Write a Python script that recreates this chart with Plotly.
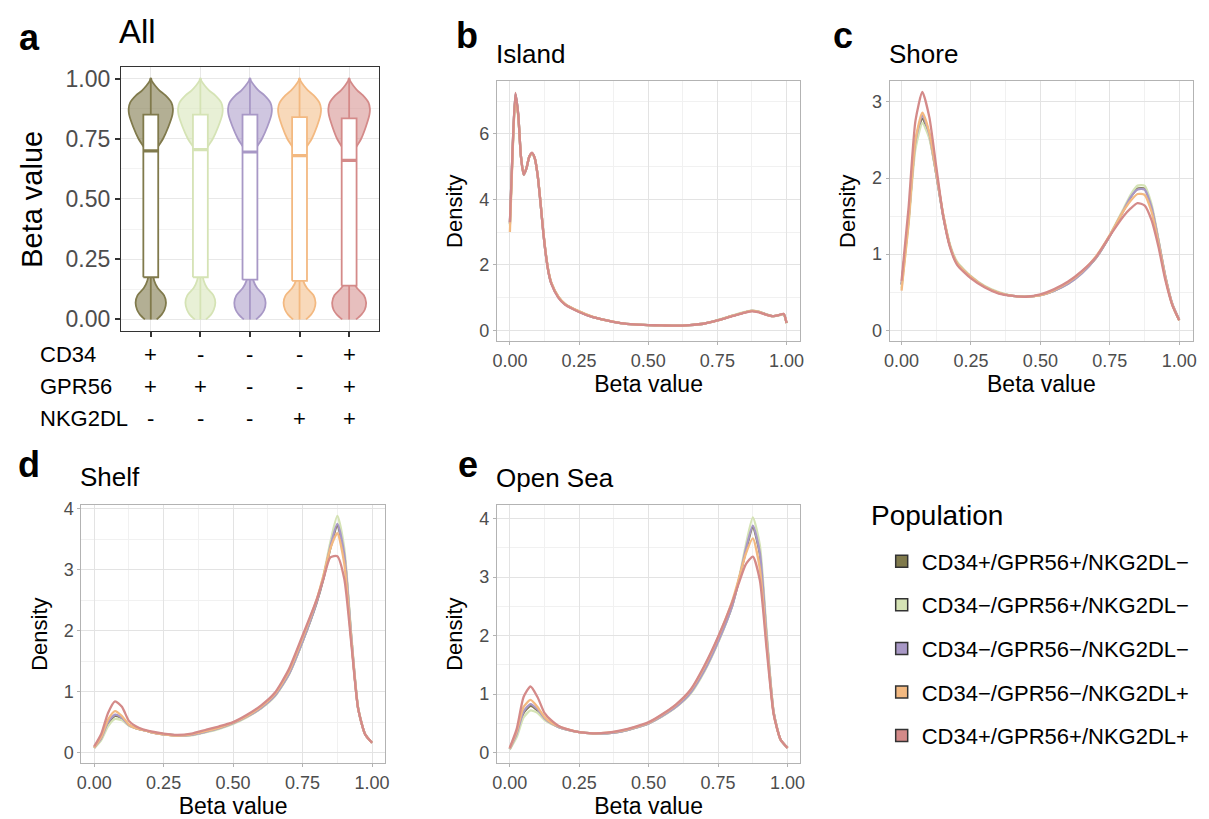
import plotly.graph_objects as go

W, H = 1209, 819

# ---------------- data ----------------
POPULATIONS = ["CD34+/GPR56+/NKG2DL\u2212", "CD34\u2212/GPR56+/NKG2DL\u2212",
               "CD34\u2212/GPR56\u2212/NKG2DL\u2212", "CD34\u2212/GPR56\u2212/NKG2DL+",
               "CD34+/GPR56+/NKG2DL+"]
LEGEND_TITLE = "Population"
COLORS = ["#807A4C", "#D5E3B5", "#A898C6", "#F3B981", "#D48A89"]
FILLS = ["rgba(128,122,76,0.6)", "rgba(213,227,181,0.55)", "rgba(168,152,198,0.55)",
         "rgba(243,185,129,0.55)", "rgba(212,138,137,0.55)"]

MARKER_ROWS = ["CD34", "GPR56", "NKG2DL"]
MARKER_SIGNS = [["+", "-", "-", "-", "+"],
                ["+", "+", "-", "-", "+"],
                ["-", "-", "-", "+", "+"]]

BOX_Q1 = [0.175, 0.175, 0.165, 0.16, 0.14]
BOX_MEDIAN = [0.70, 0.705, 0.695, 0.68, 0.66]
BOX_Q3 = [0.85, 0.85, 0.85, 0.84, 0.835]
BOX_LOW = [0.0, 0.0, 0.0, 0.0, 0.0]
BOX_HIGH = [1.0, 1.0, 1.0, 1.0, 1.0]

VIOLIN_BETA = [0, .02, .04, .07, .1, .13, .16, .2, .3, .4, .5, .6, .65, .7, .75, .8,
               .85, .875, .9, .93, .95, .97, .99, 1.0]
VIOLIN_DENSITY = [
    [0.53, 0.97, 1.23, 1.36, 1.19, 0.62, 0.31, 0.18, 0.11, 0.09, 0.09, 0.13, 0.22, 0.44, 1.1, 1.58, 1.94, 1.98, 1.85, 1.32, 0.79, 0.4, 0.09, 0.03],
    [0.5, 0.95, 1.2, 1.34, 1.17, 0.6, 0.3, 0.17, 0.1, 0.09, 0.09, 0.13, 0.22, 0.45, 1.12, 1.6, 1.96, 2.0, 1.87, 1.33, 0.8, 0.4, 0.09, 0.03],
    [0.55, 1.0, 1.28, 1.4, 1.22, 0.64, 0.32, 0.18, 0.11, 0.09, 0.09, 0.13, 0.22, 0.44, 1.08, 1.56, 1.92, 1.96, 1.83, 1.3, 0.78, 0.4, 0.09, 0.03],
    [0.58, 1.03, 1.3, 1.43, 1.25, 0.66, 0.33, 0.19, 0.11, 0.09, 0.09, 0.13, 0.22, 0.45, 1.1, 1.55, 1.88, 1.92, 1.78, 1.27, 0.77, 0.39, 0.09, 0.03],
    [0.62, 1.1, 1.4, 1.52, 1.32, 0.7, 0.35, 0.2, 0.12, 0.1, 0.1, 0.14, 0.23, 0.46, 1.08, 1.5, 1.82, 1.86, 1.74, 1.24, 0.75, 0.38, 0.09, 0.03],
]

ISLAND_BETA = [0, .01, .02, .03, .04, .05, .06, .07, .08, .09, .1, .11, .12, .13, .14, .15,
               .175, .2, .25, .3, .35, .4, .45, .5, .55, .6, .65, .7, .75, .8, .85, .875,
               .9, .925, .95, .975, .99, 1.0]
ISLAND_DENSITY = [
    [3.25, 5.55, 7.2, 6.6, 5.3, 4.75, 4.95, 5.3, 5.4, 5.25, 4.75, 3.95, 3.05, 2.3, 1.76, 1.43, 1.02, 0.79, 0.57, 0.4, 0.3, 0.22, 0.18, 0.16, 0.15, 0.14, 0.16, 0.2, 0.3, 0.43, 0.55, 0.59, 0.56, 0.49, 0.43, 0.47, 0.49, 0.22],
    [3.2, 5.5, 7.15, 6.55, 5.28, 4.74, 4.94, 5.28, 5.38, 5.24, 4.76, 3.97, 3.08, 2.33, 1.78, 1.45, 1.03, 0.8, 0.58, 0.41, 0.3, 0.22, 0.18, 0.16, 0.15, 0.14, 0.16, 0.2, 0.31, 0.44, 0.56, 0.6, 0.57, 0.49, 0.43, 0.46, 0.48, 0.21],
    [3.3, 5.58, 7.22, 6.6, 5.3, 4.75, 4.95, 5.3, 5.41, 5.25, 4.75, 3.95, 3.05, 2.3, 1.76, 1.43, 1.01, 0.79, 0.57, 0.4, 0.3, 0.22, 0.18, 0.16, 0.15, 0.14, 0.16, 0.2, 0.3, 0.43, 0.55, 0.59, 0.56, 0.48, 0.43, 0.47, 0.5, 0.22],
    [3.0, 5.45, 7.1, 6.55, 5.3, 4.76, 4.96, 5.3, 5.4, 5.25, 4.76, 3.98, 3.08, 2.33, 1.78, 1.45, 1.03, 0.8, 0.58, 0.41, 0.3, 0.22, 0.18, 0.16, 0.15, 0.14, 0.16, 0.2, 0.3, 0.43, 0.55, 0.59, 0.56, 0.48, 0.43, 0.47, 0.5, 0.22],
    [3.3, 5.6, 7.25, 6.6, 5.3, 4.75, 4.95, 5.3, 5.42, 5.25, 4.75, 3.95, 3.05, 2.3, 1.75, 1.42, 1.0, 0.78, 0.56, 0.4, 0.3, 0.22, 0.18, 0.16, 0.15, 0.14, 0.16, 0.2, 0.3, 0.42, 0.54, 0.58, 0.55, 0.48, 0.43, 0.47, 0.5, 0.22],
]

BETA = [0, .025, .05, .075, .1, .125, .15, .175, .2, .25, .3, .35, .4, .45, .5, .55, .6,
        .65, .7, .75, .8, .825, .85, .875, .9, .925, .95, .975, 1.0]
SHORE_DENSITY = [
    [0.6, 1.45, 2.45, 2.78, 2.55, 2.05, 1.5, 1.1, 0.88, 0.7, 0.57, 0.49, 0.45, 0.44, 0.46, 0.52, 0.62, 0.76, 0.95, 1.24, 1.58, 1.75, 1.86, 1.86, 1.62, 1.18, 0.7, 0.34, 0.13],
    [0.55, 1.38, 2.38, 2.72, 2.52, 2.05, 1.52, 1.12, 0.9, 0.71, 0.58, 0.5, 0.45, 0.44, 0.46, 0.52, 0.61, 0.75, 0.95, 1.25, 1.6, 1.78, 1.9, 1.9, 1.66, 1.2, 0.71, 0.34, 0.13],
    [0.6, 1.45, 2.48, 2.82, 2.58, 2.06, 1.5, 1.1, 0.88, 0.7, 0.57, 0.49, 0.45, 0.44, 0.46, 0.52, 0.61, 0.75, 0.95, 1.24, 1.58, 1.75, 1.85, 1.85, 1.62, 1.18, 0.71, 0.35, 0.14],
    [0.52, 1.4, 2.5, 2.86, 2.6, 2.08, 1.52, 1.1, 0.88, 0.7, 0.57, 0.49, 0.45, 0.44, 0.46, 0.53, 0.63, 0.77, 0.97, 1.25, 1.57, 1.7, 1.79, 1.78, 1.56, 1.15, 0.69, 0.34, 0.13],
    [0.65, 1.6, 2.75, 3.13, 2.8, 2.15, 1.5, 1.08, 0.86, 0.68, 0.56, 0.48, 0.45, 0.44, 0.47, 0.54, 0.64, 0.78, 0.96, 1.24, 1.5, 1.6, 1.67, 1.64, 1.45, 1.1, 0.66, 0.33, 0.13],
]
SHELF_DENSITY = [
    [0.08, 0.22, 0.48, 0.6, 0.56, 0.45, 0.4, 0.37, 0.34, 0.3, 0.28, 0.29, 0.34, 0.4, 0.48, 0.59, 0.73, 0.93, 1.28, 1.82, 2.45, 2.85, 3.35, 3.72, 3.25, 1.9, 0.72, 0.3, 0.16],
    [0.07, 0.2, 0.43, 0.55, 0.53, 0.44, 0.4, 0.37, 0.34, 0.3, 0.28, 0.28, 0.33, 0.39, 0.47, 0.58, 0.72, 0.92, 1.27, 1.82, 2.48, 2.9, 3.45, 3.88, 3.35, 1.95, 0.74, 0.3, 0.16],
    [0.08, 0.23, 0.5, 0.62, 0.57, 0.45, 0.4, 0.37, 0.34, 0.3, 0.28, 0.29, 0.34, 0.4, 0.48, 0.59, 0.73, 0.93, 1.28, 1.83, 2.46, 2.87, 3.38, 3.75, 3.25, 1.9, 0.72, 0.3, 0.16],
    [0.08, 0.25, 0.54, 0.68, 0.6, 0.46, 0.4, 0.37, 0.34, 0.3, 0.28, 0.3, 0.35, 0.41, 0.49, 0.6, 0.75, 0.96, 1.32, 1.88, 2.5, 2.9, 3.35, 3.6, 3.1, 1.85, 0.72, 0.3, 0.16],
    [0.1, 0.3, 0.65, 0.84, 0.75, 0.52, 0.43, 0.38, 0.35, 0.31, 0.29, 0.31, 0.37, 0.43, 0.5, 0.62, 0.77, 0.98, 1.36, 1.92, 2.5, 2.85, 3.2, 3.22, 2.85, 1.8, 0.72, 0.3, 0.16],
]
OPENSEA_DENSITY = [
    [0.06, 0.3, 0.68, 0.8, 0.72, 0.58, 0.5, 0.44, 0.4, 0.35, 0.33, 0.33, 0.36, 0.42, 0.5, 0.63, 0.79, 1.02, 1.4, 1.9, 2.5, 2.95, 3.45, 3.85, 3.4, 1.95, 0.68, 0.22, 0.08],
    [0.05, 0.26, 0.6, 0.72, 0.68, 0.56, 0.49, 0.44, 0.4, 0.35, 0.33, 0.33, 0.36, 0.42, 0.5, 0.62, 0.78, 1.0, 1.38, 1.88, 2.5, 2.98, 3.55, 4.02, 3.55, 2.05, 0.7, 0.22, 0.08],
    [0.06, 0.32, 0.7, 0.83, 0.74, 0.59, 0.5, 0.44, 0.4, 0.35, 0.33, 0.33, 0.36, 0.42, 0.5, 0.63, 0.79, 1.02, 1.4, 1.9, 2.5, 2.95, 3.48, 3.88, 3.42, 1.95, 0.68, 0.22, 0.08],
    [0.07, 0.36, 0.78, 0.9, 0.78, 0.61, 0.51, 0.45, 0.41, 0.35, 0.33, 0.34, 0.37, 0.43, 0.51, 0.65, 0.82, 1.06, 1.46, 1.97, 2.58, 2.98, 3.4, 3.66, 3.15, 1.85, 0.66, 0.22, 0.08],
    [0.08, 0.4, 0.95, 1.13, 0.95, 0.68, 0.55, 0.46, 0.41, 0.35, 0.33, 0.34, 0.38, 0.44, 0.52, 0.66, 0.83, 1.07, 1.48, 1.98, 2.56, 2.9, 3.22, 3.35, 2.95, 1.75, 0.65, 0.22, 0.08],
]

# ---------------- figure ----------------
FONT = "Liberation Sans, Arial, Helvetica, sans-serif"
fig = go.Figure()


def px_x(a, b):
    return [a / W, b / W]


def px_y(top, bottom):
    return [1 - bottom / H, 1 - top / H]


# Panel a: violins, whiskers, boxes, medians (all as scatter so the layering is right)
BOX_HALF = 0.15
vmax = max(max(d) for d in VIOLIN_DENSITY)
for i in range(5):
    pos = i + 1
    hw = [d / vmax * 0.45 for d in VIOLIN_DENSITY[i]]
    xs = [pos - h for h in hw] + [pos + h for h in reversed(hw)]
    ys = list(VIOLIN_BETA) + list(reversed(VIOLIN_BETA))
    fig.add_trace(go.Scatter(x=xs, y=ys, mode="lines", fill="toself",
                             fillcolor=FILLS[i], line=dict(color=COLORS[i], width=1.8, shape="spline", smoothing=0.8),
                             xaxis="x", yaxis="y", showlegend=False, hoverinfo="skip"))
for i in range(5):
    pos = i + 1
    fig.add_trace(go.Scatter(x=[pos, pos, None, pos, pos],
                             y=[BOX_LOW[i], BOX_Q1[i], None, BOX_Q3[i], BOX_HIGH[i]],
                             mode="lines", line=dict(color=COLORS[i], width=1.8),
                             xaxis="x", yaxis="y", showlegend=False, hoverinfo="skip"))
    fig.add_trace(go.Scatter(x=[pos - BOX_HALF, pos + BOX_HALF, pos + BOX_HALF, pos - BOX_HALF, pos - BOX_HALF],
                             y=[BOX_Q1[i], BOX_Q1[i], BOX_Q3[i], BOX_Q3[i], BOX_Q1[i]],
                             mode="lines", fill="toself", fillcolor="white",
                             line=dict(color=COLORS[i], width=1.8),
                             xaxis="x", yaxis="y", showlegend=False, hoverinfo="skip"))
    fig.add_trace(go.Scatter(x=[pos - BOX_HALF, pos + BOX_HALF], y=[BOX_MEDIAN[i], BOX_MEDIAN[i]],
                             mode="lines", line=dict(color=COLORS[i], width=3.2),
                             xaxis="x", yaxis="y", showlegend=False, hoverinfo="skip"))

# density panels
panels = [("x2", "y2", ISLAND_BETA, ISLAND_DENSITY), ("x3", "y3", BETA, SHORE_DENSITY),
          ("x4", "y4", BETA, SHELF_DENSITY), ("x5", "y5", BETA, OPENSEA_DENSITY)]
for xa, ya, grid, dens in panels:
    for i in range(5):
        fig.add_trace(go.Scatter(x=grid, y=dens[i], mode="lines",
                                 line=dict(color=COLORS[i], width=2.3, shape="spline", smoothing=0.6),
                                 xaxis=xa, yaxis=ya, showlegend=False, hoverinfo="skip"))

# legend entries
for i in range(5):
    fig.add_trace(go.Box(y=[None], name=POPULATIONS[i], fillcolor=COLORS[i],
                         line=dict(color="#333333", width=1.5), xaxis="x2", yaxis="y2",
                         showlegend=True, legendgroup=str(i), boxpoints=False))

GRID_MAJ = "#e3e3e3"
GRID_MIN = "#f1f1f1"
TICKC = "#4d4d4d"


def dens_axes(xdom, ydom, xrng, yrng, ymaj):
    xa = dict(domain=xdom, range=xrng, tickvals=[0, 0.25, 0.5, 0.75, 1.0],
              ticktext=["0.00", "0.25", "0.50", "0.75", "1.00"],
              tickfont=dict(size=18, color=TICKC, family=FONT), ticks="outside", ticklen=3,
              tickcolor="#b3b3b3", showline=True, mirror=True, linecolor="#b3b3b3", linewidth=1,
              showgrid=True, gridcolor=GRID_MAJ, gridwidth=1, zeroline=False,
              minor=dict(showgrid=True, gridcolor=GRID_MIN, tickvals=[0.125, 0.375, 0.625, 0.875]),
              title=dict(text="Beta value", font=dict(size=23, color="black", family=FONT), standoff=2))
    ya = dict(domain=ydom, range=yrng, tickvals=ymaj, ticktext=[str(v) for v in ymaj],
              tickfont=dict(size=18, color=TICKC, family=FONT), ticks="outside", ticklen=3,
              tickcolor="#b3b3b3", showline=True, mirror=True, linecolor="#b3b3b3", linewidth=1,
              showgrid=True, gridcolor=GRID_MAJ, gridwidth=1, zeroline=False,
              minor=dict(showgrid=True, gridcolor=GRID_MIN,
                         tickvals=[v + (ymaj[1] - ymaj[0]) / 2 for v in ymaj]),
              title=dict(text="Density", font=dict(size=22, color="black", family=FONT), standoff=10))
    return xa, ya


xa2, ya2 = dens_axes(px_x(496, 802), px_y(76, 338), [-0.047, 1.05], [-0.33, 7.6], [0, 2, 4, 6])
xa3, ya3 = dens_axes(px_x(892, 1198), px_y(76, 338), [-0.043, 1.05], [-0.143, 3.27], [0, 1, 2, 3])
xa4, ya4 = dens_axes(px_x(77, 383), px_y(503, 764), [-0.046, 1.046], [-0.179, 4.065], [0, 1, 2, 3, 4])
xa5, ya5 = dens_axes(px_x(496, 802), px_y(503, 764), [-0.046, 1.046], [-0.186, 4.237], [0, 1, 2, 3, 4])
for k, a in zip([2, 3, 4, 5], [(xa2, ya2), (xa3, ya3), (xa4, ya4), (xa5, ya5)]):
    a[0]["anchor"] = "y%d" % k
    a[1]["anchor"] = "x%d" % k

annotations = []
# panel letters and titles
for txt, x, y in [("a", 25, 32), ("b", 466, 30), ("c", 845, 30), ("d", 24, 462), ("e", 467, 462)]:
    annotations.append(dict(text="<b>%s</b>" % txt, x=x / W, y=1 - y / H, xref="paper", yref="paper",
                            showarrow=False, xanchor="center", yanchor="middle",
                            font=dict(size=36, color="black", family=FONT)))
for txt, x, y, s in [("All", 113, 26, 33), ("Island", 493, 48, 26), ("Shore", 889, 48, 26),
                     ("Shelf", 74, 475, 26), ("Open Sea", 493, 476, 26)]:
    annotations.append(dict(text=txt, x=x / W, y=1 - y / H, xref="paper", yref="paper",
                            showarrow=False, xanchor="left", yanchor="middle",
                            font=dict(size=s, color="black", family=FONT)))
# legend title
annotations.append(dict(text=LEGEND_TITLE, x=871 / W, y=1 - 514 / H, xref="paper", yref="paper",
                        showarrow=False, xanchor="left", yanchor="middle",
                        font=dict(size=28, color="black", family=FONT)))
# marker table under panel a
row_y = [352, 384, 416]
for r, name in enumerate(MARKER_ROWS):
    annotations.append(dict(text=name, x=33 / W, y=1 - row_y[r] / H, xref="paper", yref="paper",
                            showarrow=False, xanchor="left", yanchor="middle",
                            font=dict(size=22, color="black", family=FONT)))
    for c, s in enumerate(MARKER_SIGNS[r]):
        annotations.append(dict(text=s, x=c + 1, y=1 - row_y[r] / H, xref="x", yref="paper",
                                showarrow=False, xanchor="center", yanchor="middle",
                                font=dict(size=22, color="black", family=FONT)))

fig.update_layout(
    width=W, height=H, margin=dict(l=0, r=0, t=0, b=0),
    paper_bgcolor="white", plot_bgcolor="white",
    font=dict(family=FONT, color="black"),
    xaxis=dict(domain=px_x(117, 377), range=[0.4, 5.6], tickvals=[1, 2, 3, 4, 5],
               showticklabels=False, ticks="outside", ticklen=5, tickwidth=1.5, tickcolor="#333333",
               showline=True, mirror=True, linecolor="#333333", linewidth=1.2,
               showgrid=True, gridcolor="#e8e8e8", zeroline=False, anchor="y"),
    yaxis=dict(domain=px_y(62, 328), range=[-0.049, 1.046], tickvals=[0, 0.25, 0.5, 0.75, 1.0],
               ticktext=["0.00", "0.25", "0.50", "0.75", "1.00"],
               tickfont=dict(size=23, color=TICKC, family=FONT), ticks="outside", ticklen=5,
               tickwidth=1.5, tickcolor="#333333",
               showline=True, mirror=True, linecolor="#333333", linewidth=1.2,
               showgrid=True, gridcolor="#e8e8e8", zeroline=False, anchor="x",
               minor=dict(showgrid=True, gridcolor="#f3f3f3", tickvals=[0.125, 0.375, 0.625, 0.875]),
               title=dict(text="Beta value", font=dict(size=29, color="black", family=FONT), standoff=14)),
    xaxis2=xa2, yaxis2=ya2, xaxis3=xa3, yaxis3=ya3, xaxis4=xa4, yaxis4=ya4, xaxis5=xa5, yaxis5=ya5,
    annotations=annotations,
    legend=dict(x=884 / W, y=1 - 539 / H, xanchor="left", yanchor="top",
                font=dict(size=22, color="black", family=FONT), tracegroupgap=12,
                bgcolor="rgba(0,0,0,0)", itemwidth=30),
    showlegend=True,
)

fig.write_html("out.html")
